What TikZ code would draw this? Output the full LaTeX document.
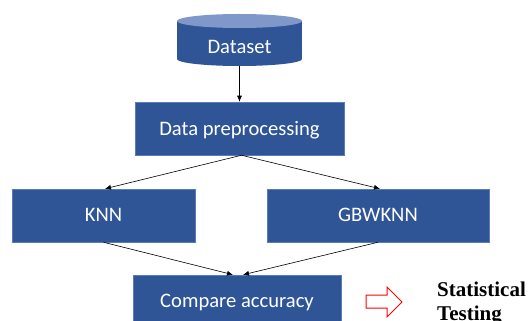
\documentclass[tikz,border=0pt]{standalone}
\usepackage{fontspec}
\newfontfamily\calibri{Carlito}
\newfontfamily\timesf{Liberation Serif}
\usetikzlibrary{arrows.meta,calc}
\definecolor{boxblue}{HTML}{2F5597}
\definecolor{boxedge}{HTML}{5A7DBA}
\definecolor{toplight}{HTML}{8098C9}
\tikzset{
  box/.style={rectangle, fill=boxblue, draw=boxedge, line width=0.5pt, text=white,
    font=\calibri\fontsize{20.6}{24}\selectfont, inner sep=0pt, minimum height=53pt,
    text depth=1pt},
  conn/.style={draw=black, line width=0.6pt, -{Latex[length=6pt,width=5pt]}},
  stattext/.style={font=\timesf\bfseries\fontsize{21}{24}\selectfont, inner sep=0pt, anchor=base west}
}
\begin{document}
\begin{tikzpicture}[x=1pt,y=-1pt]
\useasboundingbox (0,0) rectangle (528,321);
% cylinder
\fill[boxblue] (177,21) rectangle (302,59);
\fill[boxblue] (239.5,59) ellipse [x radius=62.5pt, y radius=7pt];
\fill[toplight] (239.5,21) ellipse [x radius=62.5pt, y radius=7pt];
\node[text=white, font=\calibri\fontsize{20.6}{24}\selectfont, minimum width=125pt, minimum height=38pt, inner sep=0pt, text depth=1pt] (dataset) at (239.5,47) {Dataset};
% boxes
\node[box, minimum width=209pt] (prep) at (239.5,128.5) {Data preprocessing};
\node[box, minimum width=183pt] (knn) at (103.5,215.5) {KNN};
\node[box, minimum width=222pt] (gbw) at (378,215.5) {GBWKNN};
\node[box, minimum width=208pt] (cmp) at (237,301.5) {Compare accuracy};
% connectors
\draw[conn] (dataset.south) -- (prep.north);
\draw[conn] ($(prep.south)+(2,0)$) -- ($(knn.north)+(1.5,0)$);
\draw[conn] ($(prep.south)+(2,0)$) -- ($(gbw.north)+(2,0)$);
\draw[conn] (knn.south) -- ($(cmp.north)+(-4,0)$);
\draw[conn] (gbw.south) -- ($(cmp.north)+(6,0)$);
% block arrow
\coordinate (ra) at (366,295);
\draw[red, line width=1pt, fill=white] (ra) -- (387,295) -- (387,287) -- (402,302) -- (387,317) -- (387,308) -- (366,308) -- cycle;
% text
\node[stattext] (stat) at (437,296) {Statistical};
\node[stattext] (test) at (437,320) {Testing};
\end{tikzpicture}
\end{document}
